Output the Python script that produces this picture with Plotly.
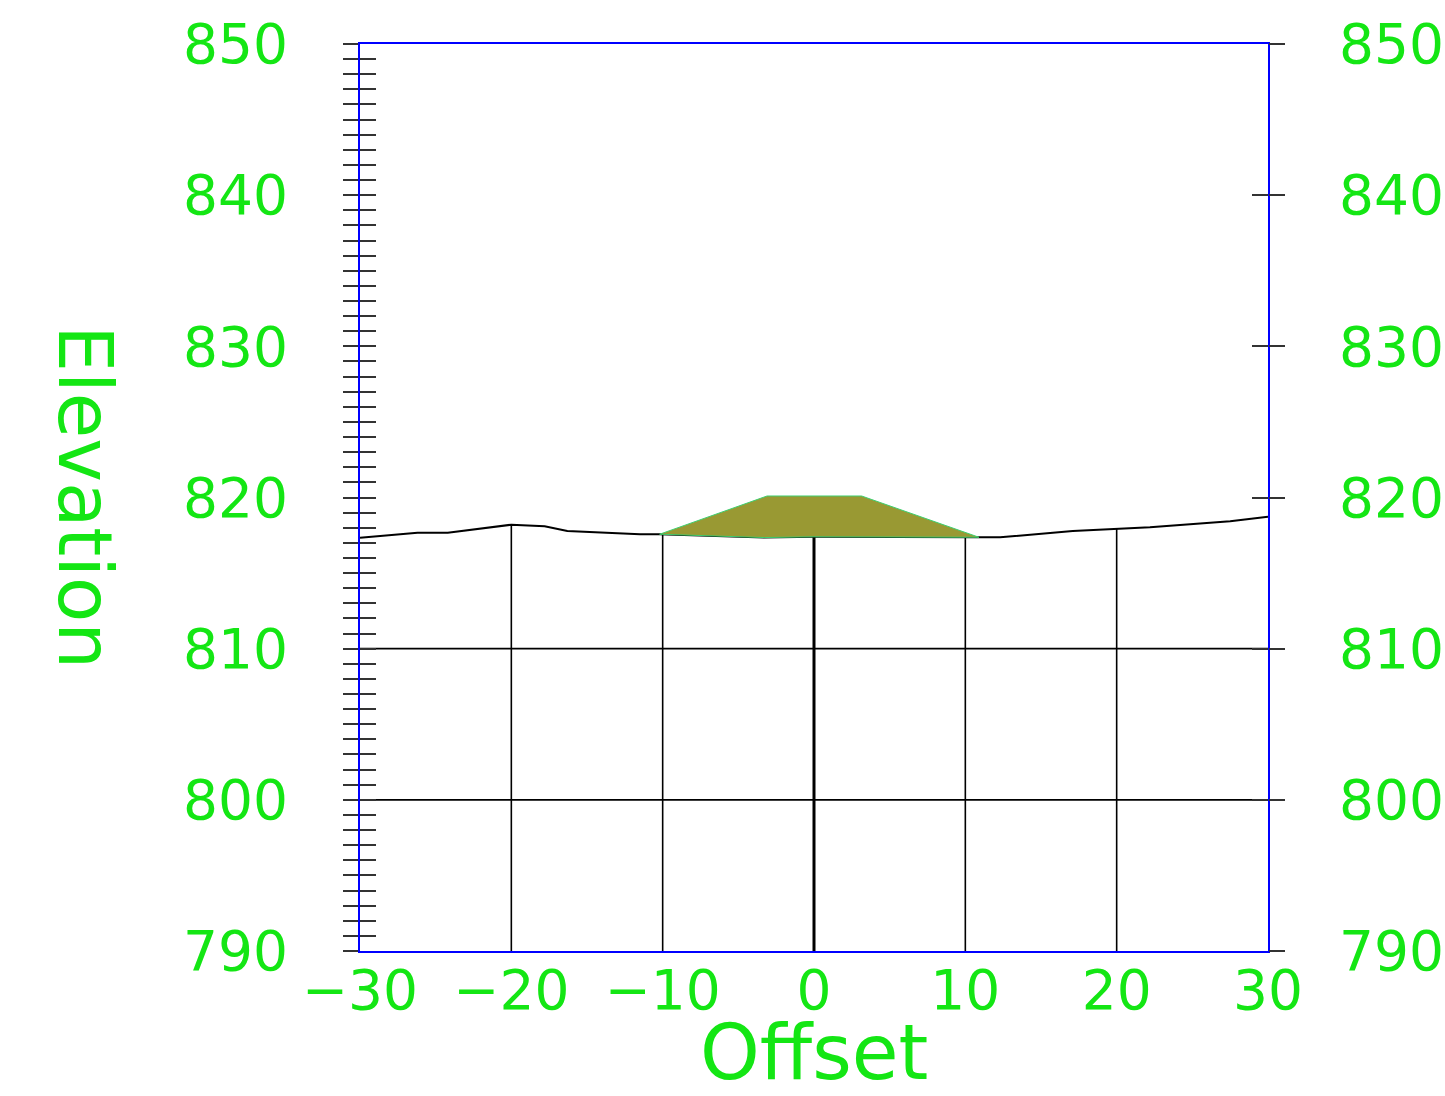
import numpy as np
import plotly.graph_objects as go

# ---- data ----
ground_x = [-30, -26.2, -24.2, -20.0, -17.8, -16.3, -11.5, -10.2, -3.3, 0.0, 10.9, 12.3, 17.1, 22.2, 27.5, 30]
ground_y = [817.34, 817.67, 817.67, 818.2, 818.1, 817.78, 817.57, 817.57, 817.35, 817.4, 817.37, 817.37, 817.78, 818.03, 818.43, 818.73]

fill_top_x = [-10.2, -3.1, 3.15, 10.9]
fill_top_y = [817.57, 820.1, 820.1, 817.37]

grid_x = [-20, -10, 0, 10, 20]
grid_y = [800, 810]

x_ticks = [-30, -20, -10, 0, 10, 20, 30]
x_tick_text = ["\u221230", "\u221220", "\u221210", "0", "10", "20", "30"]
y_ticks = [790, 800, 810, 820, 830, 840, 850]

GREEN = "#14e614"
BLUE = "#0000ff"
TICK = "#333333"
FONT = "DejaVu Sans"

fig = go.Figure()

# vertical grid lines from bottom up to ground
for gx in grid_x:
    gtop = float(np.interp(gx, ground_x, ground_y))
    fig.add_trace(go.Scatter(x=[gx, gx], y=[790, gtop], mode="lines",
                             line=dict(color="black", width=3 if gx == 0 else 1.6),
                             showlegend=False, hoverinfo="skip"))
# horizontal grid lines below ground
for gy in grid_y:
    fig.add_trace(go.Scatter(x=[-30, 30], y=[gy, gy], mode="lines",
                             line=dict(color="black", width=1.6),
                             showlegend=False, hoverinfo="skip", cliponaxis=False))

# ground line
fig.add_trace(go.Scatter(x=ground_x, y=ground_y, mode="lines",
                         line=dict(color="black", width=2),
                         showlegend=False, hoverinfo="skip"))

# fill polygon: top of embankment and ground beneath
under = [(gx, gy) for gx, gy in zip(ground_x, ground_y) if fill_top_x[0] < gx < fill_top_x[-1]]
poly_x = list(fill_top_x) + [p[0] for p in reversed(under)] + [fill_top_x[0]]
poly_y = list(fill_top_y) + [p[1] for p in reversed(under)] + [fill_top_y[0]]
fig.add_trace(go.Scatter(x=poly_x, y=poly_y, mode="lines", fill="toself",
                         fillcolor="#999933", line=dict(color="#3fcf6f", width=1),
                         showlegend=False, hoverinfo="skip"))

# dummy traces for overlay axes
for ya in ["y2", "y3", "y4"]:
    fig.add_trace(go.Scatter(x=[None], y=[None], yaxis=ya, showlegend=False, hoverinfo="skip"))

tickfont = dict(family=FONT, size=55, color=GREEN)

fig.update_layout(
    width=1445, height=1096,
    margin=dict(l=360, r=177, t=44, b=145, autoexpand=False),
    paper_bgcolor="white", plot_bgcolor="white",
    xaxis=dict(range=[-30, 30], tickvals=x_ticks, ticktext=x_tick_text,
               showgrid=False, zeroline=False, showline=True, mirror=True,
               linecolor=BLUE, linewidth=2, ticks="", tickfont=tickfont,
               ticklabelstandoff=-10, automargin=False),
    yaxis=dict(range=[790, 850], tickvals=y_ticks, showgrid=False, zeroline=False,
               showline=True, mirror=True, linecolor=BLUE, linewidth=2,
               ticks="outside", ticklen=15, tickwidth=2, tickcolor=TICK,
               minor=dict(dtick=1, ticks="outside", ticklen=15, tickwidth=2, tickcolor=TICK),
               tickfont=tickfont, ticklabelstandoff=44, automargin=False),
    yaxis3=dict(range=[790, 850], overlaying="y", side="left", tickvals=y_ticks,
                showgrid=False, zeroline=False, showline=False, showticklabels=False,
                ticks="inside", ticklen=16, tickwidth=2, tickcolor=TICK, automargin=False,
                minor=dict(dtick=1, ticks="inside", ticklen=16, tickwidth=2, tickcolor=TICK)),
    yaxis2=dict(range=[790, 850], overlaying="y", side="right", tickvals=y_ticks,
                showgrid=False, zeroline=False, showline=False,
                ticks="outside", ticklen=16, tickwidth=2, tickcolor=TICK,
                tickfont=tickfont, ticklabelstandoff=43, automargin=False),
    yaxis4=dict(range=[790, 850], overlaying="y", side="right", tickvals=y_ticks,
                showgrid=False, zeroline=False, showline=False, showticklabels=False,
                ticks="inside", ticklen=16, tickwidth=2, tickcolor=TICK, automargin=False),
    annotations=[
        dict(text="Offset", xref="paper", yref="paper", x=0.5, y=-0.1115,
             xanchor="center", yanchor="middle", showarrow=False,
             font=dict(family=FONT, size=76, color=GREEN)),
        dict(text="Elevation", xref="paper", yref="paper", x=-0.3027, y=0.5,
             xanchor="center", yanchor="middle", showarrow=False, textangle=90,
             font=dict(family=FONT, size=74, color=GREEN)),
    ],
)

fig.write_html(
    "out.html",
    config={"displayModeBar": False},
    post_script="document.body.style.margin='0';document.body.style.overflow='hidden';",
)
